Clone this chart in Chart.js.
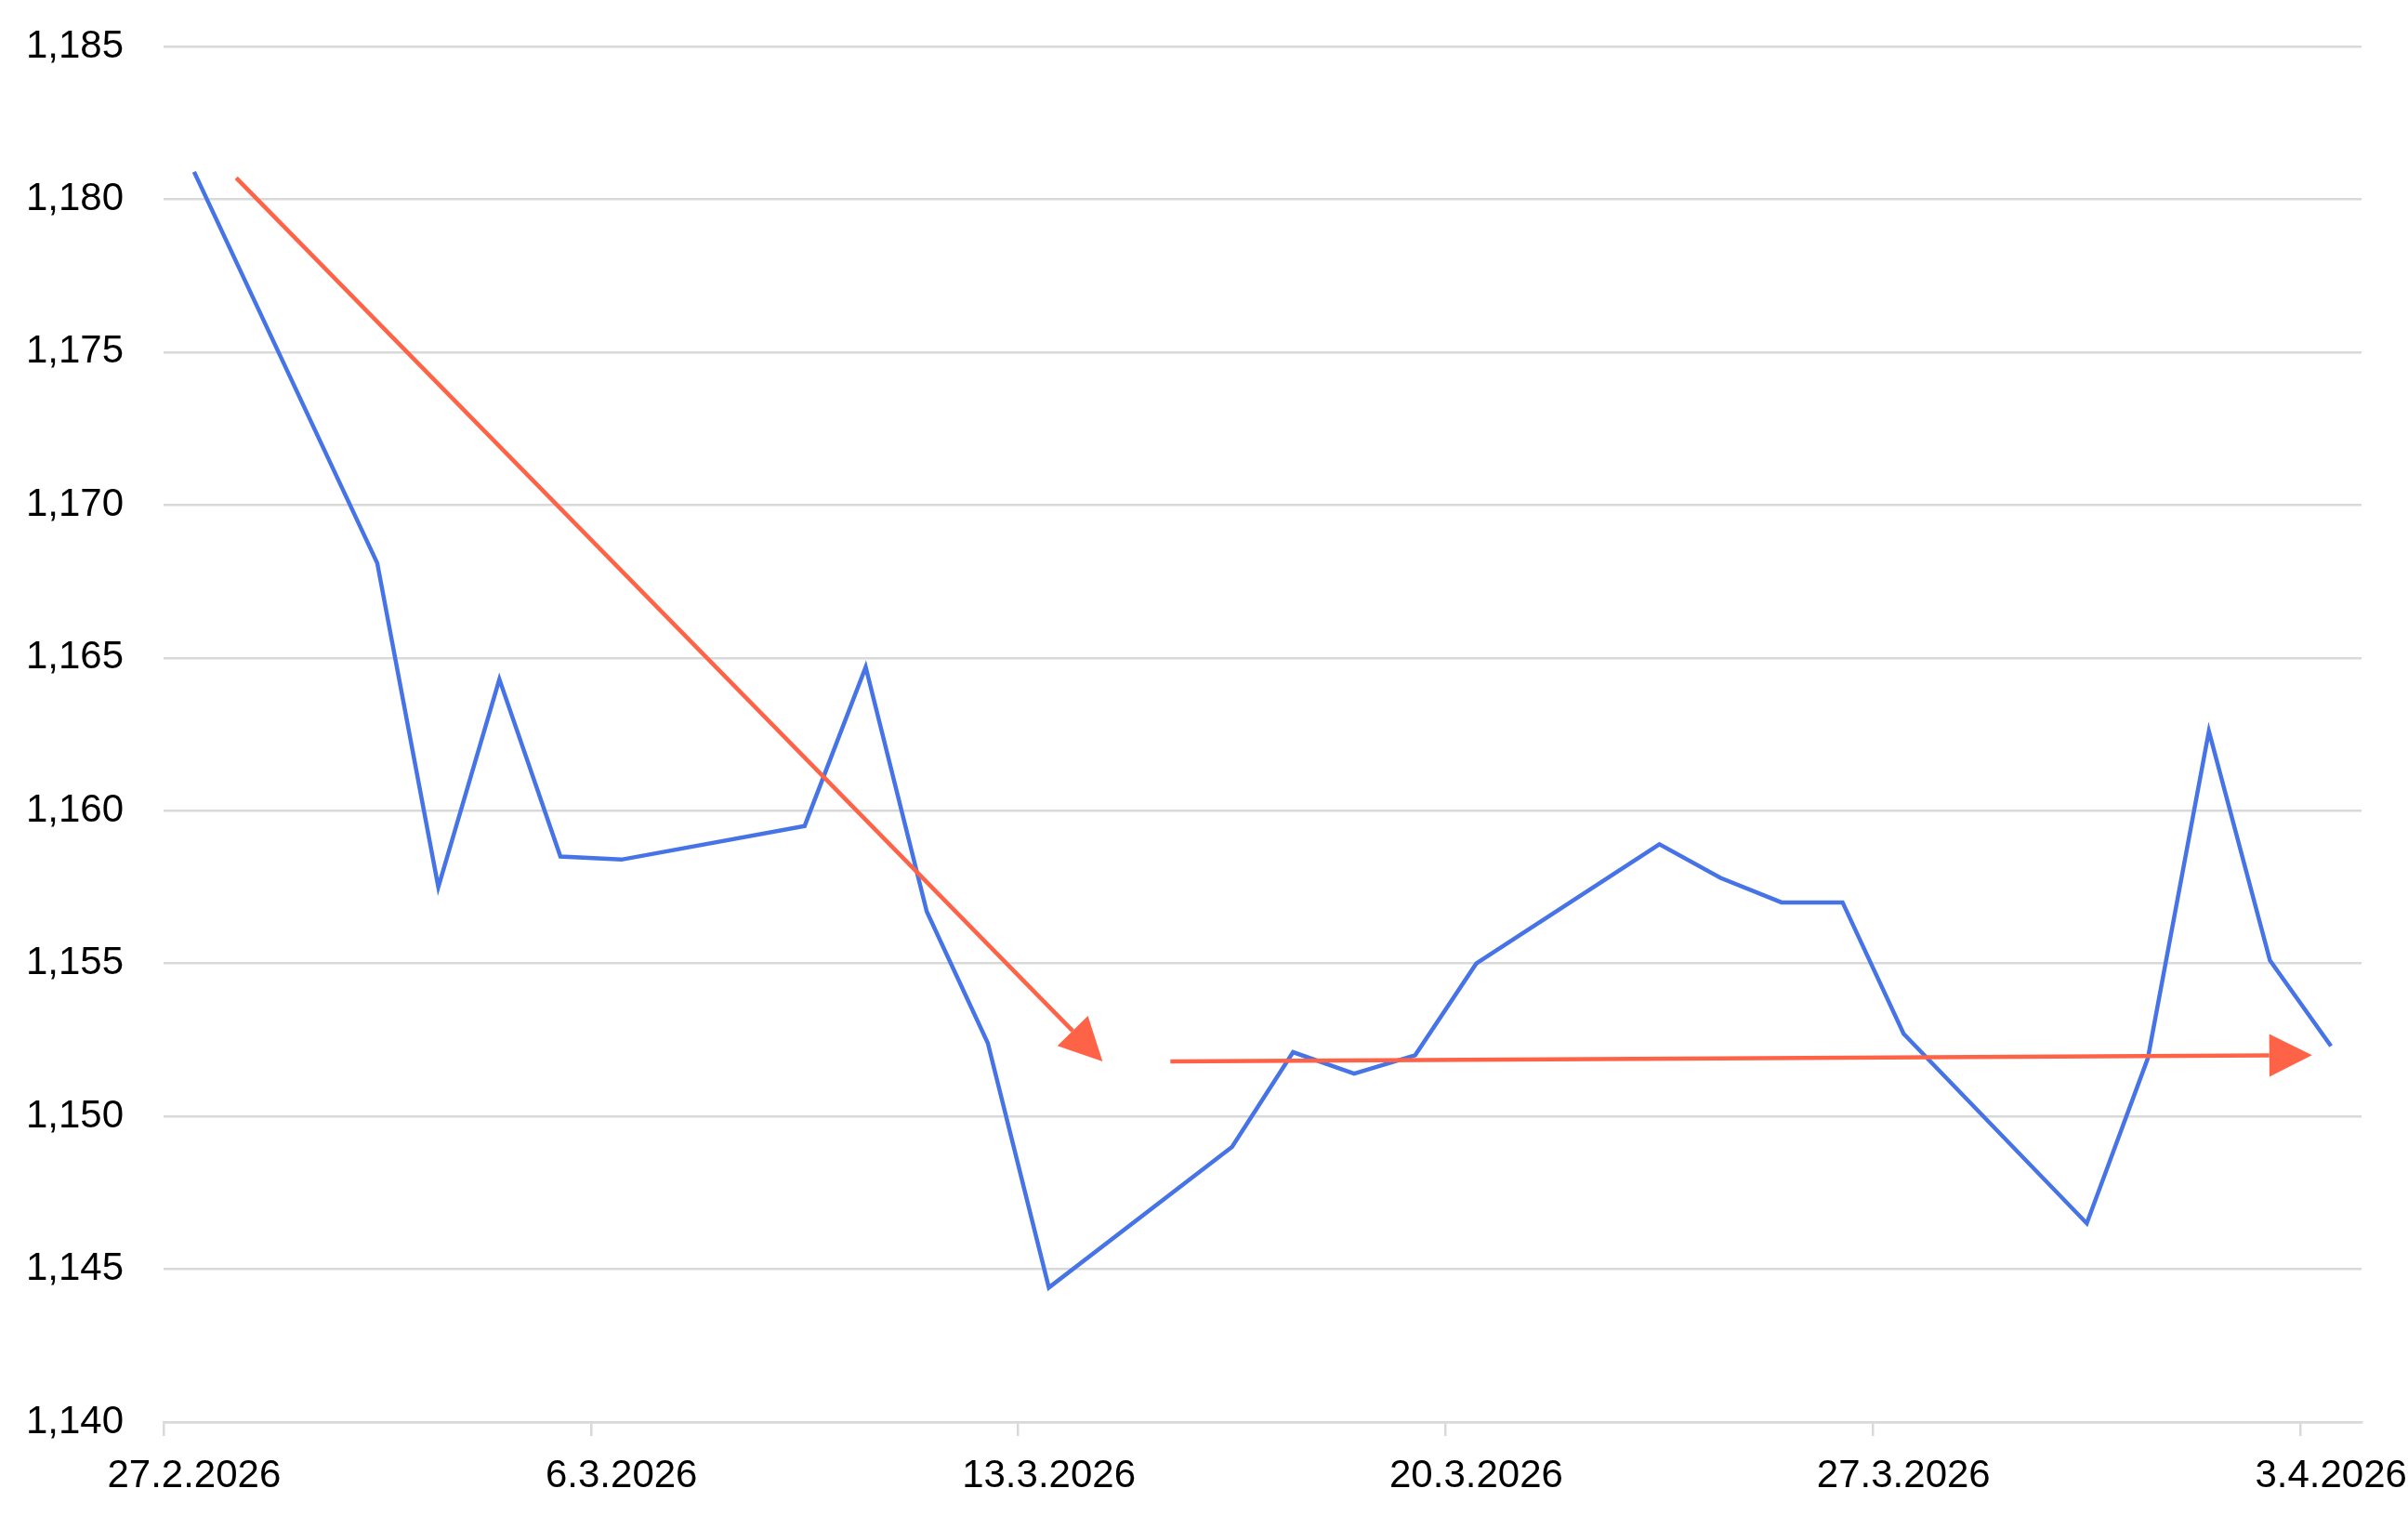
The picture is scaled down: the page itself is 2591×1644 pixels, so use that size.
<!DOCTYPE html>
<html>
<head>
<meta charset="utf-8">
<script src="https://cdn.jsdelivr.net/npm/chart.js@4.4.1/dist/chart.umd.min.js"></script>
<style>
    html, body { margin: 0; padding: 0; background: #ffffff; overflow: hidden; }
    #wrap { width: 2591px; height: 1644px; position: relative; }
</style>
</head>
<body>
<div id="wrap"><canvas id="rateChart"></canvas></div>
<script>
// every calendar day on the axis, weekends have no quote
const days = [
    '27.2.2026', '28.2.2026', '1.3.2026', '2.3.2026', '3.3.2026', '4.3.2026', '5.3.2026',
    '6.3.2026', '7.3.2026', '8.3.2026', '9.3.2026', '10.3.2026', '11.3.2026', '12.3.2026',
    '13.3.2026', '14.3.2026', '15.3.2026', '16.3.2026', '17.3.2026', '18.3.2026', '19.3.2026',
    '20.3.2026', '21.3.2026', '22.3.2026', '23.3.2026', '24.3.2026', '25.3.2026', '26.3.2026',
    '27.3.2026', '28.3.2026', '29.3.2026', '30.3.2026', '31.3.2026', '1.4.2026', '2.4.2026',
    '3.4.2026'
];

const rates = [
    1.1809, null, null, 1.1681, 1.1575, 1.1643, 1.1585,
    1.1584, null, null, 1.1595, 1.1647, 1.1567, 1.1524,
    1.1444, null, null, 1.1490, 1.1521, 1.1514, 1.1520,
    1.1550, null, null, 1.1589, 1.1578, 1.1570, 1.1570,
    1.1527, null, null, 1.1465, 1.1519, 1.1626, 1.1551,
    1.1523
];

// trend arrows, [day index, rate]
const trendFrom = [[0.69, 1.1807], [15.99, 1.1518]];
const trendTo = [[14.88, 1.1518], [34.69, 1.1520]];

const yTicks = { min: 1.140, max: 1.185, step: 0.005 };

const gridGrey = '#d9d9d9';

const arrowPlugin = {
    id: 'trendArrows',
    afterDatasetsDraw(chart) {
        const ctx = chart.ctx;
        const xs = chart.scales.x;
        const ys = chart.scales.y;
        const head = 46;
        ctx.save();
        ctx.strokeStyle = '#ff6347';
        ctx.fillStyle = '#ff6347';
        ctx.lineWidth = 4.5;
        for (let i = 0; i < trendFrom.length; i++) {
            const x0 = xs.getPixelForValue(trendFrom[i][0]);
            const y0 = ys.getPixelForValue(trendFrom[i][1]);
            const x1 = xs.getPixelForValue(trendTo[i][0]);
            const y1 = ys.getPixelForValue(trendTo[i][1]);
            const ang = Math.atan2(y1 - y0, x1 - x0);
            const bx = x1 - head * Math.cos(ang);
            const by = y1 - head * Math.sin(ang);
            ctx.beginPath();
            ctx.moveTo(x0, y0);
            ctx.lineTo(bx, by);
            ctx.stroke();
            ctx.beginPath();
            ctx.moveTo(x1, y1);
            ctx.lineTo(bx + head / 2 * Math.sin(ang), by - head / 2 * Math.cos(ang));
            ctx.lineTo(bx - head / 2 * Math.sin(ang), by + head / 2 * Math.cos(ang));
            ctx.closePath();
            ctx.fill();
        }
        ctx.restore();
    }
};

Chart.defaults.font.family = '"Liberation Sans", Arial, sans-serif';
Chart.defaults.font.size = 42;
Chart.defaults.color = '#000000';

new Chart(document.getElementById('rateChart'), {
    type: 'line',
    data: {
        labels: days,
        datasets: [{
            label: 'EUR/USD',
            data: rates,
            borderColor: '#4674e6',
            borderWidth: 4.5,
            pointRadius: 0,
            spanGaps: true,
            tension: 0
        }]
    },
    options: {
        responsive: true,
        maintainAspectRatio: false,
        animation: false,
        layout: {
            padding: { left: 30, right: 50, top: 50, bottom: 0 }
        },
        plugins: {
            legend: { display: false },
            tooltip: { enabled: false }
        },
        scales: {
            x: {
                offset: true,
                afterFit: (s) => {
                    s.height = 114;
                    s.paddingLeft = 0;
                    s.paddingRight = 0;
                },
                grid: {
                    offset: true,
                    drawOnChartArea: false,
                    drawTicks: true,
                    tickLength: 15,
                    lineWidth: 2.5,
                    color: (c) => (c.index % 7 === 0 && c.index < days.length) ? gridGrey : 'rgba(0,0,0,0)'
                },
                border: { display: true, color: gridGrey, width: 2.5 },
                ticks: {
                    autoSkip: false,
                    maxRotation: 0,
                    padding: 18,
                    callback: function (val, idx) {
                        return idx % 7 === 0 ? days[idx] : '';
                    }
                }
            },
            y: {
                min: yTicks.min,
                max: yTicks.max,
                afterFit: (s) => {
                    s.width = 146;
                    s.paddingTop = 0;
                    s.paddingBottom = 0;
                },
                grid: {
                    color: gridGrey,
                    lineWidth: 2.5,
                    drawTicks: false
                },
                border: { display: false },
                ticks: {
                    stepSize: yTicks.step,
                    padding: 43,
                    callback: (v) => v.toFixed(3).replace('.', ',')
                }
            }
        }
    },
    plugins: [arrowPlugin]
});
</script>
</body>
</html>
